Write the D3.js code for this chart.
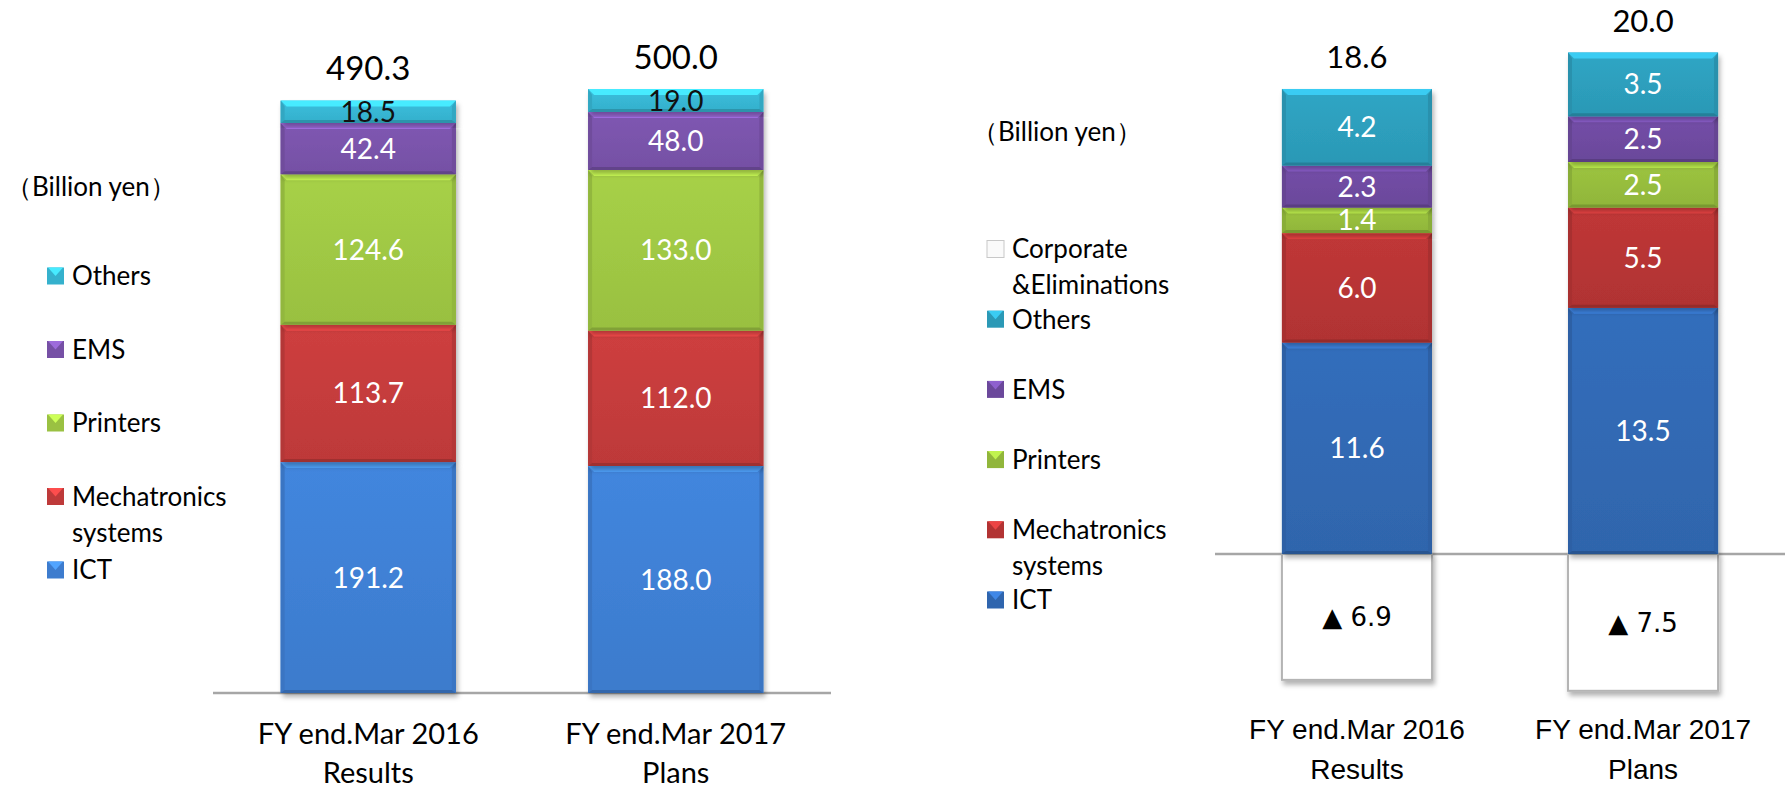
<!DOCTYPE html>
<html>
<head>
<meta charset="utf-8">
<script src="https://cdn.jsdelivr.net/npm/d3@7"></script>
<style>
  body { margin: 0; background: #fff; }
  svg { display: block; }
  text { font-family: Lato, "Open Sans", sans-serif; }
</style>
</head>
<body>
<svg id="chart" width="1785" height="790"></svg>
<script>
// categories
const years = ['FY end.Mar 2016', 'FY end.Mar 2017'];
const yearNotes = ['Results', 'Plans'];

// net sales (billion yen)
const salesIct = [191.2, 188.0];
const salesMecha = [113.7, 112.0];
const salesPrinters = [124.6, 133.0];
const salesEms = [42.4, 48.0];
const salesOthers = [18.5, 19.0];
const salesTotal = [490.3, 500.0];

// operating income (billion yen)
const profitIct = [11.6, 13.5];
const profitMecha = [6.0, 5.5];
const profitPrinters = [1.4, 2.5];
const profitEms = [2.3, 2.5];
const profitOthers = [4.2, 3.5];
const profitCorporate = [-6.9, -7.5];
const profitTotal = [18.6, 20.0];

const segmentKeys = ['ICT', 'Mechatronics systems', 'Printers', 'EMS', 'Others'];

const svg = d3.select('#chart');
const defs = svg.append('defs');

var shadow = defs.append('filter').attr('id', 'shadow')
  .attr('x', '-10%').attr('y', '-10%').attr('width', '130%').attr('height', '130%');
shadow.append('feDropShadow').attr('dx', 2).attr('dy', 4).attr('stdDeviation', 2.5)
  .attr('flood-color', '#000').attr('flood-opacity', 0.3);

var gradCount = 0;
function gradient(c) {
  var id = 'g' + (gradCount++);
  var lg = defs.append('linearGradient').attr('id', id).attr('x1', 0).attr('y1', 0).attr('x2', 0).attr('y2', 1);
  lg.append('stop').attr('offset', '0%').attr('stop-color', d3.color(c).brighter(0.12));
  lg.append('stop').attr('offset', '100%').attr('stop-color', d3.color(c).darker(0.12));
  return 'url(#' + id + ')';
}

function bevelBar(g, x, y, w, h, c) {
  var b = Math.min(6, h / 3);
  var s = Math.min(4, h / 3);
  g.append('rect').attr('x', x).attr('y', y).attr('width', w).attr('height', h)
    .attr('fill', gradient(c)).attr('filter', 'url(#shadow)');
  g.append('polygon')
    .attr('points', [[x, y], [x + w, y], [x + w - b, y + b], [x + b, y + b]].join(' '))
    .attr('fill', d3.color(c).brighter(0.7));
  g.append('polygon')
    .attr('points', [[x, y], [x + s, y + b], [x + s, y + h - 3], [x, y + h]].join(' '))
    .attr('fill', d3.color(c).darker(0.25));
  g.append('polygon')
    .attr('points', [[x + w, y], [x + w - s, y + b], [x + w - s, y + h - 3], [x + w, y + h]].join(' '))
    .attr('fill', d3.color(c).darker(0.25));
  g.append('polygon')
    .attr('points', [[x, y + h], [x + s, y + h - 3], [x + w - s, y + h - 3], [x + w, y + h]].join(' '))
    .attr('fill', d3.color(c).darker(0.6));
}

function legendMark(g, x, y, c) {
  var sz = 17;
  if (c === '#ffffff') {
    g.append('rect').attr('x', x).attr('y', y - sz / 2).attr('width', sz).attr('height', sz)
      .attr('fill', '#fafafa').attr('stroke', '#c8c8c8');
    return;
  }
  g.append('rect').attr('x', x).attr('y', y - sz / 2).attr('width', sz).attr('height', sz)
    .attr('fill', d3.color(c).darker(0.1));
  g.append('polygon')
    .attr('points', [[x + 1, y - sz / 2], [x + sz - 1, y - sz / 2], [x + sz / 2, y]].join(' '))
    .attr('fill', d3.color(c).brighter(0.7));
}

function drawChart(cfg) {
  var x = d3.scaleBand().domain(years).range(cfg.range)
    .paddingInner(cfg.padIn).paddingOuter(cfg.padOut);
  var y = d3.scaleLinear().domain(cfg.yDomain).range(cfg.yRange);
  var g = svg.append('g');

  g.append('line')
    .attr('x1', cfg.range[0]).attr('x2', cfg.range[1])
    .attr('y1', y(0)).attr('y2', y(0))
    .attr('stroke', '#a6a6a6').attr('stroke-width', 2.5);

  var rows = years.map(function (yr, i) {
    var r = { year: yr };
    segmentKeys.forEach(function (k, j) { r[k] = cfg.series[j][i]; });
    return r;
  });
  var layers = d3.stack().keys(segmentKeys)(rows);

  // negative part (corporate & eliminations)
  if (cfg.negative) {
    cfg.negative.forEach(function (v, i) {
      var bx = x(years[i]);
      g.append('rect')
        .attr('x', bx).attr('y', y(0))
        .attr('width', x.bandwidth()).attr('height', y(v) - y(0))
        .attr('fill', '#ffffff').attr('stroke', '#b4b4b4').attr('stroke-width', 2)
        .attr('filter', 'url(#shadow)');
      g.append('text')
        .attr('x', bx + x.bandwidth() / 2).attr('y', (y(0) + y(v)) / 2)
        .attr('dy', '0.36em').attr('text-anchor', 'middle')
        .style('font-family', '"DejaVu Sans", sans-serif')
        .style('font-size', '26px').attr('fill', '#000')
        .text('\u25B2 ' + Math.abs(v).toFixed(1));
    });
  }

  layers.forEach(function (layer, j) {
    layer.forEach(function (d) {
      var bx = x(d.data.year);
      bevelBar(g, bx, y(d[1]), x.bandwidth(), y(d[0]) - y(d[1]), cfg.colors[j]);
    });
  });

  layers.forEach(function (layer, j) {
    layer.forEach(function (d) {
      g.append('text')
        .attr('x', x(d.data.year) + x.bandwidth() / 2)
        .attr('y', (y(d[0]) + y(d[1])) / 2)
        .attr('dy', '0.36em').attr('text-anchor', 'middle')
        .style('font-size', cfg.labelSize + 'px')
        .attr('fill', cfg.labelColors[j])
        .text(d[1] - d[0] > 0 ? (d.data[layer.key]).toFixed(1) : '');
    });
  });

  // totals above the stacks
  cfg.totals.forEach(function (t, i) {
    var top = d3.sum(cfg.series, function (s) { return s[i]; });
    g.append('text')
      .attr('x', x(years[i]) + x.bandwidth() / 2)
      .attr('y', y(top) - 32)
      .attr('dy', '0.36em').attr('text-anchor', 'middle')
      .style('font-size', cfg.totalSize + 'px').attr('fill', '#000')
      .text(t.toFixed(1));
  });

  // category labels
  years.forEach(function (yr, i) {
    var t = g.append('text')
      .attr('x', x(yr) + x.bandwidth() / 2)
      .attr('text-anchor', 'middle')
      .style('font-family', cfg.catFont)
      .style('font-size', cfg.catSize + 'px').attr('fill', '#000');
    t.append('tspan').attr('x', x(yr) + x.bandwidth() / 2).attr('y', cfg.catY[0]).attr('dy', '0.36em').text(yr);
    t.append('tspan').attr('x', x(yr) + x.bandwidth() / 2).attr('y', cfg.catY[1]).attr('dy', '0.36em').text(yearNotes[i]);
  });

  // legend
  var lg = svg.append('g');
  lg.append('text').attr('x', cfg.unitPos[0]).attr('y', cfg.unitPos[1]).attr('dy', '0.36em')
    .style('font-size', '26px').attr('fill', '#000').text('\uFF08Billion yen\uFF09');
  cfg.legend.forEach(function (item, k) {
    var ly = cfg.legendY + k * cfg.legendStep;
    legendMark(lg, cfg.legendX, ly, item.color);
    item.lines.forEach(function (ln, m) {
      lg.append('text').attr('x', cfg.legendX + 25).attr('y', ly + m * 36).attr('dy', '0.36em')
        .style('font-size', '26px').attr('fill', '#000').text(ln);
    });
  });
}

var leftColors = ['#3f80d5', '#c53c3c', '#a0c844', '#7a53ab', '#37b7d4'];
var rightColors = ['#3169b4', '#b83535', '#96bd3d', '#6f4ba1', '#2d9fbd'];

drawChart({
  range: [213, 831], padIn: 0.43, padOut: 0.22,
  yDomain: [0, 500], yRange: [693, 89],
  series: [salesIct, salesMecha, salesPrinters, salesEms, salesOthers],
  totals: salesTotal,
  colors: leftColors,
  labelColors: ['#fff', '#fff', '#fff', '#fff', '#111'],
  labelSize: 28, totalSize: 33,
  catFont: 'Lato, sans-serif', catSize: 29, catY: [734, 773],
  unitPos: [6, 187],
  legendX: 47, legendY: 276, legendStep: 73.5,
  legend: [
    { lines: ['Others'], color: leftColors[4] },
    { lines: ['EMS'], color: leftColors[3] },
    { lines: ['Printers'], color: leftColors[2] },
    { lines: ['Mechatronics', 'systems'], color: leftColors[1] },
    { lines: ['ICT'], color: leftColors[0] }
  ]
});

drawChart({
  range: [1215, 1785], padIn: 0.4755, padOut: 0.234,
  yDomain: [-7.5, 27.5], yRange: [690.8, 52.5],
  series: [profitIct, profitMecha, profitPrinters, profitEms, profitOthers],
  negative: profitCorporate,
  totals: profitTotal,
  colors: rightColors,
  labelColors: ['#fff', '#fff', '#fff', '#fff', '#fff'],
  labelSize: 28, totalSize: 31,
  catFont: '"Liberation Sans", Arial, sans-serif', catSize: 28, catY: [729, 769],
  unitPos: [972, 132],
  legendX: 987, legendY: 249, legendStep: 70.2,
  legend: [
    { lines: ['Corporate', '&Eliminations'], color: '#ffffff' },
    { lines: ['Others'], color: rightColors[4] },
    { lines: ['EMS'], color: rightColors[3] },
    { lines: ['Printers'], color: rightColors[2] },
    { lines: ['Mechatronics', 'systems'], color: rightColors[1] },
    { lines: ['ICT'], color: rightColors[0] }
  ]
});
</script>
</body>
</html>
